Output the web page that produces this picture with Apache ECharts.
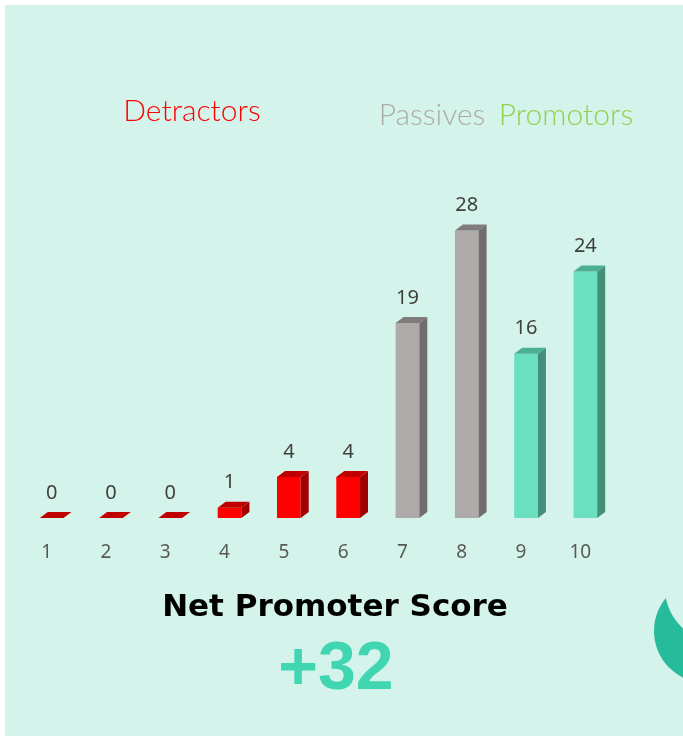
<!DOCTYPE html>
<html>
<head>
<meta charset="utf-8">
<script src="https://cdn.jsdelivr.net/npm/echarts@6/dist/echarts.min.js"></script>
<style>
html,body{margin:0;padding:0;background:#fff;}
#main{width:683px;height:738px;}
</style>
</head>
<body>
<div id="main"></div>
<script>
// scores and how many answers got each score
var scores = ['1','2','3','4','5','6','7','8','9','10'];
var counts = [0, 0, 0, 1, 4, 4, 19, 28, 16, 24];
var groupNames = ['Detractors', 'Passives', 'Promotors'];
var groupOf = [0, 0, 0, 0, 0, 0, 1, 1, 2, 2];

// front / top / side colours for each group
var faceColors = [
    ['#ff0000', '#c00000', '#a00000'],
    ['#aeaaaa', '#7f7b7b', '#716d6d'],
    ['#6ae0c1', '#4cae92', '#448f7a']
];
var titleColors = ['#ff0000', '#aeaaaa', '#92d050'];

var total = 0, prom = 0, detr = 0;
for (var i = 0; i < counts.length; i++) {
    total += counts[i];
    if (groupOf[i] == 2) prom += counts[i];
    if (groupOf[i] == 0) detr += counts[i];
}
var nps = Math.round((prom - detr) / total * 100);

var myChart = echarts.init(document.getElementById('main'));

function renderBar(params, api) {
    var idx = api.value(0);
    var val = api.value(1);
    var top = api.coord([idx, val]);
    var base = api.coord([idx, 0]);
    var w = api.size([1, 0])[0] * 0.4;
    var dx = 8, dy = 6;
    var x0 = top[0] - w / 2, x1 = top[0] + w / 2;
    var y0 = top[1], y1 = base[1];
    var c = faceColors[groupOf[idx]];
    var kids = [];
    if (y1 - y0 > 0.5) {
        kids.push({type: 'rect', shape: {x: x0, y: y0, width: w, height: y1 - y0}, style: {fill: c[0]}});
        kids.push({type: 'polygon', shape: {points: [[x1, y0], [x1 + dx, y0 - dy], [x1 + dx, y1 - dy], [x1, y1]]}, style: {fill: c[2]}});
    }
    kids.push({type: 'polygon', shape: {points: [[x0, y0], [x1, y0], [x1 + dx, y0 - dy], [x0 + dx, y0 - dy]]}, style: {fill: c[1]}});
    kids.push({type: 'text', style: {text: String(val), x: top[0], y: y0 - 25, align: 'center', verticalAlign: 'middle',
        fill: '#404040', fontSize: 20, fontFamily: 'Noto Sans'}});
    return {type: 'group', children: kids};
}

var barData = [];
for (var i = 0; i < counts.length; i++) {
    barData.push([i, counts[i]]);
}

myChart.setOption({
    backgroundColor: '#ffffff',
    animation: false,
    grid: {left: 22, right: 68, top: 210, bottom: 220},
    xAxis: {
        type: 'category',
        data: scores,
        axisLine: {show: false},
        axisTick: {show: false},
        axisLabel: {color: '#595959', fontSize: 19, fontFamily: 'Noto Sans', margin: 25, padding: [0, 10, 0, 0]}
    },
    yAxis: {type: 'value', min: 0, max: 30, show: false, splitLine: {show: false}},
    graphic: [
        {type: 'rect', z: -10, shape: {x: 5, y: 5, width: 678, height: 731}, style: {fill: '#d4f4eb'}},
        {type: 'text', x: 192, y: 111, style: {text: groupNames[0], align: 'center', verticalAlign: 'middle', fill: titleColors[0], fontSize: 30, fontFamily: 'Lato', fontWeight: 300}},
        {type: 'text', x: 432, y: 115, style: {text: groupNames[1], align: 'center', verticalAlign: 'middle', fill: titleColors[1], fontSize: 30, fontFamily: 'Lato', fontWeight: 300}},
        {type: 'text', x: 566, y: 115, style: {text: groupNames[2], align: 'center', verticalAlign: 'middle', fill: titleColors[2], fontSize: 30, fontFamily: 'Lato', fontWeight: 300}},
        {type: 'text', x: 335, y: 608, style: {text: 'Net Promoter Score', align: 'center', verticalAlign: 'middle', fill: '#000', fontSize: 31, fontWeight: 'bold', fontFamily: 'DejaVu Sans'}},
        {type: 'text', x: 336, y: 670, style: {text: (nps > 0 ? '+' : '') + nps, align: 'center', verticalAlign: 'middle', fill: '#40d6b1', fontSize: 68, fontWeight: 'bold', fontFamily: 'Liberation Sans'}},
        // green crescent at the right edge
        {type: 'circle', shape: {cx: 706, cy: 631, r: 52}, style: {fill: '#26bb9a'}},
        {type: 'circle', shape: {cx: 719.5, cy: 588, r: 54.5}, style: {fill: '#d4f4eb'}}
    ],
    series: [{
        type: 'custom',
        renderItem: renderBar,
        data: barData,
        encode: {x: 0, y: 1}
    }]
});
</script>
</body>
</html>
